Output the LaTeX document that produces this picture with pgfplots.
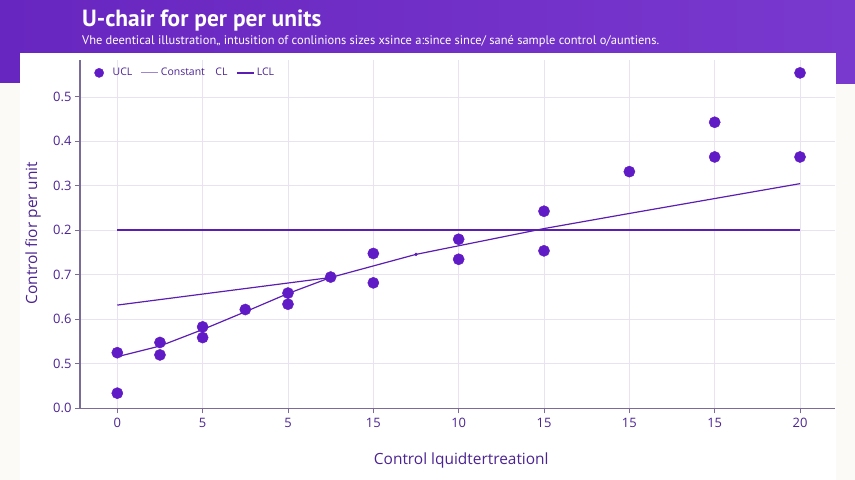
\documentclass[border=0pt]{standalone}
\usepackage{pgfplots}
\pgfplotsset{compat=1.18}
\usepackage{fontspec}
\setmainfont{Open Sans}
\newfontfamily\headfont{PT Sans}

\definecolor{headA}{RGB}{104,38,192}
\definecolor{headB}{RGB}{121,56,206}
\definecolor{pagebg}{RGB}{251,250,247}
\definecolor{labelcol}{RGB}{76,36,146}
\definecolor{dotcol}{RGB}{96,26,198}
\definecolor{linecol}{RGB}{92,30,178}
\definecolor{lightline}{RGB}{160,134,208}
\definecolor{gridcol}{RGB}{232,226,243}
\definecolor{axiscol}{RGB}{122,108,150}

\begin{document}
\begin{tikzpicture}[x=1bp,y=1bp]
\useasboundingbox (0,0) rectangle (855,480);
% page and header band
\fill[pagebg] (0,0) rectangle (855,480);
\shade[left color=headA, right color=headB] (0,426.5) rectangle (855,480);
\fill[headA] (0,397) rectangle (20,427);
\fill[headB] (836,396) rectangle (855,427);
\fill[white] (20,0) rectangle (836,427);
\node[anchor=west, inner sep=0, text=white, font=\headfont\bfseries\fontsize{23.5}{28}\selectfont]
  at (82,459) {U-chair for per per units};
\node[anchor=west, inner sep=0, text=white, font=\headfont\fontsize{12.5}{15}\selectfont]
  at (82,438.5) {Vhe deentical illustration„ intusition of conlinions sizes xsince a:since since/ sané sample control o/auntiens.};

\begin{axis}[
  at={(80bp,71.7bp)}, anchor=south west,
  scale only axis, width=755bp, height=348.3bp,
  xmin=-0.437, xmax=8.41, ymin=0, ymax=7.83,
  axis x line*=bottom, axis y line*=left,
  axis line style={axiscol, line width=1.1pt, -},
  xtick={0,...,8}, xticklabels={0,5,5,15,10,15,15,15,20},
  ytick={0,...,7}, yticklabels={0.0,0.5,0.6,0.7,0.2,0.3,0.4,0.5},
  tick align=outside, major tick length=5bp,
  tick style={axiscol, line width=0.9pt},
  grid=major, major grid style={gridcol, line width=0.8pt},
  tick label style={text=labelcol, font=\fontsize{13}{15}\selectfont},
  xticklabel style={yshift=-1bp},
  xlabel={Control lquidtertreationl}, ylabel={Control fior per unit},
  label style={text=labelcol, font=\fontsize{15.5}{18}\selectfont},
  xlabel style={at={(axis description cs:0.505,-0.150)}, anchor=center},
  ylabel style={at={(axis description cs:-0.062,0.503)}, anchor=center, rotate=0},
  legend columns=4,
  legend style={draw=none, fill=none, at={(axis description cs:0.019,0.963)}, anchor=west,
    font=\fontsize{10.5}{12}\selectfont, text=labelcol, inner sep=0pt,
    /tikz/every odd column/.append style={column sep=0bp},
    /tikz/every even column/.append style={column sep=6.5bp}},
  clip=false,
]
% centre line fitted over the early samples
\addplot[linecol, line width=1.2pt, forget plot] coordinates {(0,2.32) (2.5,2.94)};
% trend through the samples
\addplot[linecol, line width=1.2pt, forget plot] coordinates {
  (0,1.16) (0.5,1.40) (1,1.77) (1.5,2.17) (2,2.58) (2.5,2.94)
  (3.5,3.46) (4.25,3.75) (5,4.04) (6,4.38) (8,5.05)};
\addplot[only marks, mark=*, mark size=1.4bp, linecol, forget plot] coordinates {(3.5,3.46)};
% flat limit
\addplot[linecol, line width=2.2pt, forget plot] coordinates {(0,4.0) (8,4.0)};
% observed values
\addplot[only marks, mark=*, mark size=5.6bp, dotcol, forget plot] coordinates {
  (0,1.25) (0,0.34) (0.5,1.48) (0.5,1.20) (1,1.83) (1,1.59) (1.5,2.22)
  (2,2.59) (2,2.34) (2.5,2.95) (3,3.48) (3,2.82) (4,3.80) (4,3.35)
  (5,4.43) (5,3.54) (6,5.32) (7,6.43) (7,5.65) (8,7.54) (8,5.65)};

\addlegendimage{only marks, mark=*, mark size=4.6bp, dotcol}
\addlegendentry{\hspace{7bp}UCL}
\addlegendimage{lightline, line width=1.1pt}
\addlegendentry{Constant}
\addlegendimage{empty legend}
\addlegendentry{CL}
\addlegendimage{linecol, line width=2pt}
\addlegendentry{LCL}
\end{axis}
\end{tikzpicture}
\end{document}
